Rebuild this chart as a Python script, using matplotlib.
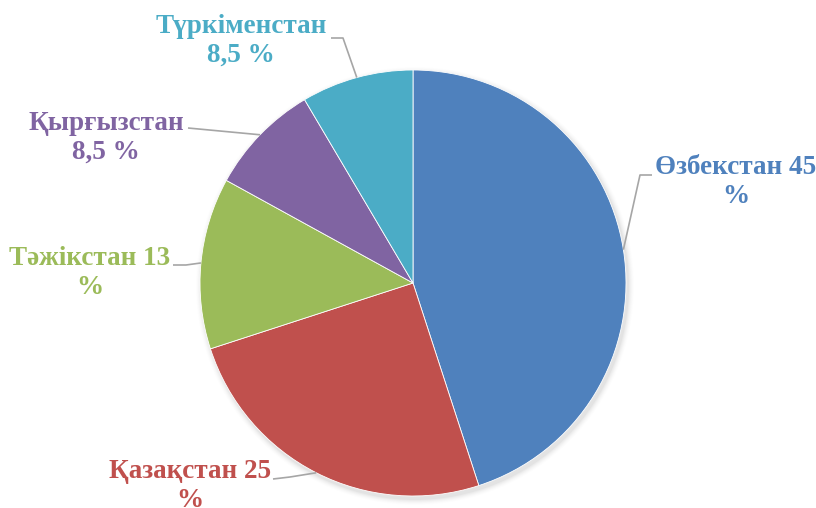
import matplotlib
matplotlib.use("Agg")
import matplotlib.pyplot as plt
import numpy as np

countries = ["Өзбекстан", "Қазақстан", "Тәжікстан", "Қырғызстан", "Түркіменстан"]
values = [45, 25, 13, 8.5, 8.5]
value_labels = ["45", "25", "13", "8,5", "8,5"]
colors = ["#4F81BD", "#C0504D", "#9BBB59", "#8064A2", "#4BACC6"]

W, H = 816, 508
fig = plt.figure(figsize=(W / 100, H / 100), dpi=100)
ax = fig.add_axes([0, 0, 1, 1])

cx, cy, R = 413, H - 283, 213

# soft shadow
for i, a in enumerate(np.linspace(0.05, 0.01, 6)):
    c = plt.Circle((cx + 2, cy - 3), R + 1 + i, color="black", alpha=a * 0.6, lw=0, zorder=0)
    ax.add_patch(c)

wedges, _ = ax.pie(values, colors=colors, startangle=90, counterclock=False,
                   center=(cx, cy), radius=R, frame=True,
                   wedgeprops=dict(edgecolor="white", linewidth=0.6))
ax.set_xlim(0, W)
ax.set_ylim(0, H)
ax.set_aspect("equal")
ax.axis("off")

# label layout: text center (x, pixel row y), elbow points of the leader line
layout = [
    dict(x=736, y=182, text=f"{countries[0]} {value_labels[0]}\n%",
         pts=[(652, 175), (640, 175)]),
    dict(x=190, y=486, text=f"{countries[1]} {value_labels[1]}\n%",
         pts=[(273, 479), (290, 477)]),
    dict(x=90, y=273, text=f"{countries[2]} {value_labels[2]}\n%",
         pts=[(173, 265), (186, 265)]),
    dict(x=106, y=138, text=f"{countries[3]}\n{value_labels[3]} %",
         pts=[(188, 128)]),
    dict(x=241, y=41, text=f"{countries[4]}\n{value_labels[4]} %",
         pts=[(331, 38), (343, 38)]),
]

for w, lay, col in zip(wedges, layout, colors):
    ang = np.deg2rad((w.theta1 + w.theta2) / 2)
    ex, ey = cx + R * np.cos(ang), cy + R * np.sin(ang)
    xs = [p[0] for p in lay["pts"]] + [ex]
    ys = [H - p[1] for p in lay["pts"]] + [ey]
    ax.plot(xs, ys, color="#A6A6A6", lw=1.2, zorder=1, solid_capstyle="butt")
    ax.text(lay["x"], H - lay["y"], lay["text"], ha="center", va="center",
            multialignment="center", color=col, fontsize=19.5, fontweight="bold",
            family="Liberation Serif", linespacing=1.22)

fig.savefig("out.png", dpi=100)
